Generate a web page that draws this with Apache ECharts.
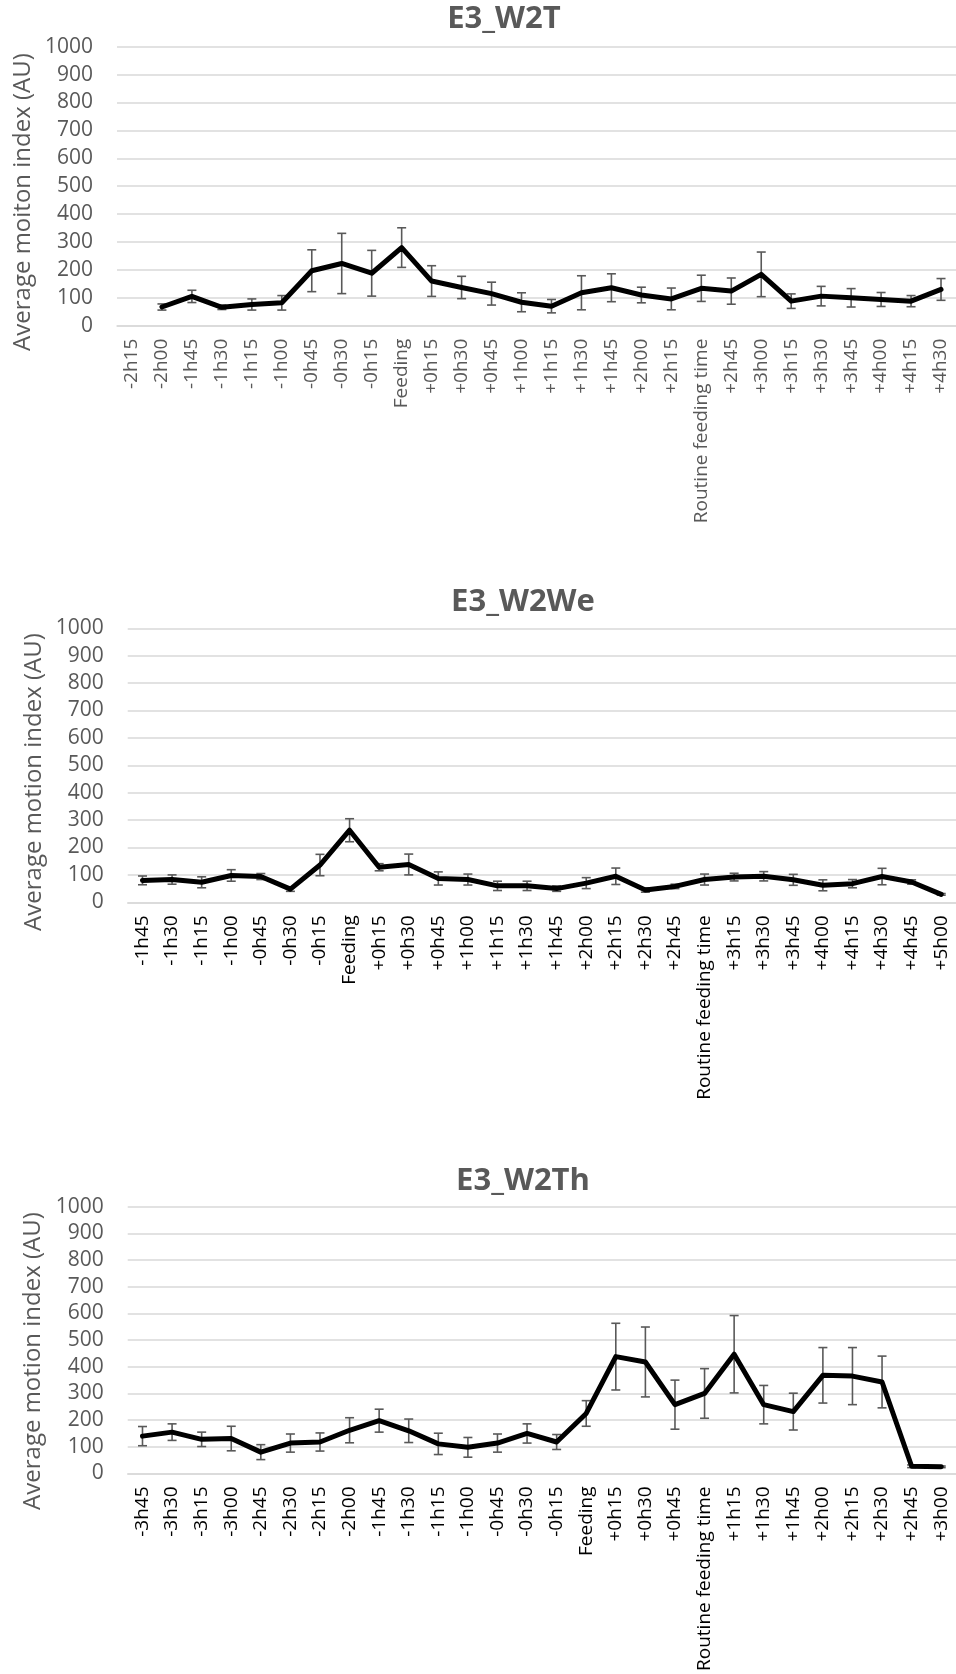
<!DOCTYPE html>
<html>
<head>
<meta charset="utf-8">
<script src="https://cdn.jsdelivr.net/npm/echarts@6/dist/echarts.min.js"></script>
<style>
html,body{margin:0;padding:0;background:#fff;}
#c{width:956px;height:1674px;}
</style>
</head>
<body>
<div id="c"></div>
<script>
// ---- data ----
const titles = ['E3_W2T', 'E3_W2We', 'E3_W2Th'];
const yTitles = ['Average moiton index (AU)', 'Average motion index (AU)', 'Average motion index (AU)'];
const yTicks = [0, 100, 200, 300, 400, 500, 600, 700, 800, 900, 1000];

const cats1 = ['-2h15','-2h00','-1h45','-1h30','-1h15','-1h00','-0h45','-0h30','-0h15','Feeding','+0h15','+0h30','+0h45','+1h00','+1h15','+1h30','+1h45','+2h00','+2h15','Routine feeding time','+2h45','+3h00','+3h15','+3h30','+3h45','+4h00','+4h15','+4h30'];
const vals1 = [null, 67, 105, 66, 76, 82, 197, 223, 188, 280, 160, 137, 115, 84, 70, 118, 136, 110, 96, 134, 124, 184, 88, 106, 100, 94, 88, 130];
const err1  = [null, 11, 22, 8, 20, 26, 75, 108, 82, 71, 55, 40, 41, 34, 24, 61, 50, 28, 39, 47, 47, 80, 26, 35, 33, 25, 20, 39];

const cats2 = ['-1h45','-1h30','-1h15','-1h00','-0h45','-0h30','-0h15','Feeding','+0h15','+0h30','+0h45','+1h00','+1h15','+1h30','+1h45','+2h00','+2h15','+2h30','+2h45','Routine feeding time','+3h15','+3h30','+3h45','+4h00','+4h15','+4h30','+4h45','+5h00'];
const vals2 = [80, 83, 73, 98, 94, 48, 136, 263, 128, 138, 87, 83, 60, 60, 50, 70, 95, 45, 58, 83, 92, 95, 82, 62, 68, 94, 74, 29];
const err2  = [16, 17, 20, 21, 11, 8, 39, 42, 13, 38, 24, 20, 17, 17, 10, 20, 30, 8, 8, 20, 14, 17, 20, 20, 15, 30, 8, 3];

const cats3 = ['-3h45','-3h30','-3h15','-3h00','-2h45','-2h30','-2h15','-2h00','-1h45','-1h30','-1h15','-1h00','-0h45','-0h30','-0h15','Feeding','+0h15','+0h30','+0h45','Routine feeding time','+1h15','+1h30','+1h45','+2h00','+2h15','+2h30','+2h45','+3h00'];
const vals3 = [140, 155, 128, 131, 80, 114, 118, 162, 198, 160, 111, 98, 114, 150, 118, 225, 438, 418, 258, 300, 447, 258, 232, 368, 365, 343, 27, 25];
const err3  = [36, 31, 27, 46, 28, 34, 34, 47, 43, 44, 40, 37, 34, 36, 28, 48, 125, 131, 92, 93, 145, 72, 69, 104, 107, 97, 5, 3];

const cats = [cats1, cats2, cats3];
const vals = [vals1, vals2, vals3];
const errs = [err1, err2, err3];

// ---- layout ----
const FONT = '"Open Sans", "Noto Sans", sans-serif';
const grids = [
  {left: 117, top: 46.7, width: 847, height: 279},
  {left: 127.7, top: 628.3, width: 840, height: 274},
  {left: 127.7, top: 1206.7, width: 837.5, height: 270.6}
];
const titlePos = [{x: 504, top: 4}, {x: 523, top: 587}, {x: 523, top: 1166}];
const yTitlePos = [{x: 23, y: 202}, {x: 34, y: 782}, {x: 33, y: 1361}];
const xLabelColor = ['#595959', '#000000', '#000000'];

const chart = echarts.init(document.getElementById('c'), null, {renderer: 'canvas'});

function errRender(params, api) {
  const x = api.value(0), v = api.value(1), e = api.value(2);
  if (v == null || isNaN(v) || e == null || isNaN(e)) return null;
  const t = api.coord([x, v + e]);
  const b = api.coord([x, v - e]);
  const w = 4.5;
  const st = {stroke: '#595959', lineWidth: 1.6};
  return {
    type: 'group',
    children: [
      {type: 'line', shape: {x1: t[0], y1: t[1], x2: b[0], y2: b[1]}, style: st},
      {type: 'line', shape: {x1: t[0] - w, y1: t[1], x2: t[0] + w, y2: t[1]}, style: st},
      {type: 'line', shape: {x1: b[0] - w, y1: b[1], x2: b[0] + w, y2: b[1]}, style: st}
    ]
  };
}

const option = {
  backgroundColor: '#ffffff',
  animation: false,
  title: titles.map((t, i) => ({
    text: t,
    left: titlePos[i].x,
    top: titlePos[i].top,
    textAlign: 'center',
    padding: 0,
    textStyle: {fontFamily: FONT, fontSize: 31, fontWeight: 'bold', color: '#595959'}
  })),
  grid: grids.map(g => Object.assign({containLabel: false}, g)),
  xAxis: cats.map((c, i) => ({
    type: 'category',
    gridIndex: i,
    data: c,
    boundaryGap: true,
    axisLine: {show: true, lineStyle: {color: '#d9d9d9', width: 1.5}},
    axisTick: {show: false},
    splitLine: {show: false},
    axisLabel: {interval: 0, rotate: 90, margin: 13, fontFamily: FONT, fontSize: 19, color: xLabelColor[i]}
  })),
  yAxis: cats.map((c, i) => ({
    type: 'value',
    gridIndex: i,
    min: yTicks[0],
    max: yTicks[yTicks.length - 1],
    interval: yTicks[1] - yTicks[0],
    axisLine: {show: false},
    axisTick: {show: false},
    splitLine: {show: true, lineStyle: {color: '#d9d9d9', width: 1.5}},
    axisLabel: {margin: 24, fontFamily: FONT, fontSize: 21, color: '#595959', formatter: v => String(v)}
  })),
  graphic: yTitles.map((t, i) => ({
    type: 'text',
    x: yTitlePos[i].x,
    y: yTitlePos[i].y,
    rotation: Math.PI / 2,
    style: {
      text: t,
      fontFamily: FONT,
      fontSize: 24,
      fill: '#595959',
      align: 'center',
      verticalAlign: 'middle',
      textAlign: 'center',
      textVerticalAlign: 'middle'
    }
  })),
  series: []
};

for (let i = 0; i < 3; i++) {
  option.series.push({
    type: 'custom',
    xAxisIndex: i,
    yAxisIndex: i,
    z: 2,
    renderItem: errRender,
    encode: {x: 0, y: 1},
    data: vals[i].map((v, k) => [k, v, errs[i][k]])
  });
  option.series.push({
    type: 'line',
    xAxisIndex: i,
    yAxisIndex: i,
    z: 3,
    data: vals[i],
    showSymbol: false,
    symbol: 'none',
    lineStyle: {color: '#000000', width: 5, cap: 'round', join: 'round'},
    itemStyle: {color: '#000000'}
  });
}

chart.setOption(option);
</script>
</body>
</html>
